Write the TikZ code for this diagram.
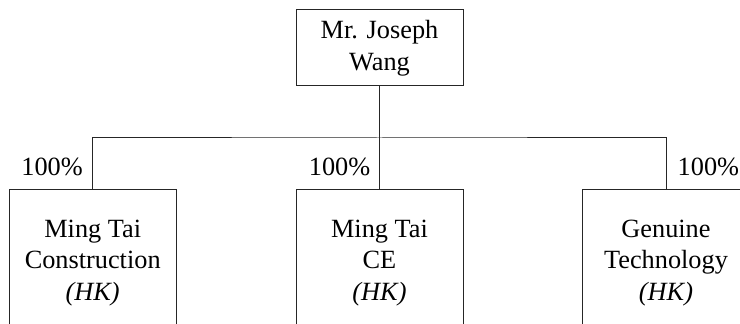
\documentclass[tikz,border=0pt]{standalone}
\usepackage{fontspec}
\setmainfont{Liberation Serif}
\begin{document}
\begin{tikzpicture}[x=1pt,y=1pt,
  txt/.style={font=\fontsize{26.3}{31.8}\selectfont},
  box/.style={txt, draw=black!85, line width=1pt, minimum width=167pt, align=center, inner sep=0pt},
  pct/.style={txt, inner sep=0pt},
  link/.style={draw=black!85, line width=1pt}]
\useasboundingbox (0,0) rectangle (740,324);
\clip (0,0) rectangle (740,324);
\node[box, minimum height=76pt] (top) at (379.5,276) {Mr. Joseph\\Wang};
\node[box, minimum height=146pt] (a) at (92.7,61) {Ming Tai\\Construction\\\textit{(HK)}};
\node[box, minimum height=146pt] (b) at (379.5,61) {Ming Tai\\CE\\\textit{(HK)}};
\node[box, minimum height=146pt] (c) at (666,61) {Genuine\\Technology\\\textit{(HK)}};
\coordinate (j) at (379.5,186);
\draw[link] (top.south) -- (j);
\draw[link] (a.north) |- (j) -| (c.north);
\draw[link] (j) -- (b.north);
\node[pct, anchor=east] (pa) at (83,156.8) {100\%};
\node[pct, anchor=east] (pb) at (370.5,156.8) {100\%};
\node[pct, anchor=west] (pc) at (677.5,156.8) {100\%};
\end{tikzpicture}
\end{document}
